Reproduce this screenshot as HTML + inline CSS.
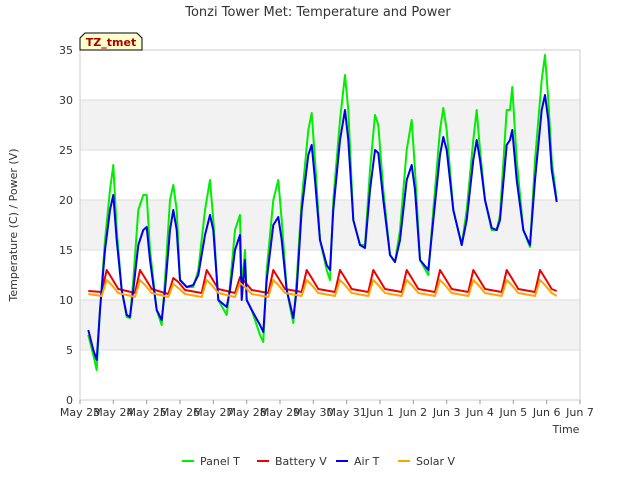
<!DOCTYPE html>
<html><head><meta charset="utf-8"><style>
body{margin:0;background:#fff;font-family:"Liberation Sans","DejaVu Sans",sans-serif}
svg text{font-family:"DejaVu Sans","Liberation Sans",sans-serif}
</style></head><body>
<svg id="chart" width="640" height="480" viewBox="0 0 640 480" xmlns="http://www.w3.org/2000/svg">
<rect width="640" height="480" fill="#fff"/>
<text x="318" y="16" text-anchor="middle" font-size="13" fill="#333">Tonzi Tower Met: Temperature and Power</text>
<g id="bands"></g><g id="grid"></g>
<rect x="80" y="50" width="500" height="350" fill="none" stroke="#ccc"/>
<g id="series"></g><g id="axes"></g>
<g>
<path d="M80,50 L80,38 L85,33 L137,33 L142,38 L142,50 Z" fill="#ffffcc" stroke="#000"/>
<text x="111" y="46" text-anchor="middle" font-size="11" font-weight="bold" fill="#aa0000">TZ_tmet</text></g>
<text transform="translate(17,225) rotate(-90)" text-anchor="middle" font-size="11" fill="#333">Temperature (C) / Power (V)</text>
<text x="566" y="433" text-anchor="middle" font-size="11" fill="#333">Time</text>
<g id="legend"></g>
</svg>
<script>
const xTicks=["May 23","May 24","May 25","May 26","May 27","May 28","May 29","May 30","May 31","Jun 1","Jun 2","Jun 3","Jun 4","Jun 5","Jun 6","Jun 7"];
const yTicks=[0,5,10,15,20,25,30,35];
const tempTimes=[0.25,0.4,0.5,0.6,0.75,0.9,1.0,1.1,1.25,1.4,1.5,1.6,1.75,1.9,2.0,2.1,2.3,2.45,2.55,2.7,2.8,2.9,3.0,3.2,3.4,3.55,3.75,3.9,4.0,4.15,4.4,4.5,4.65,4.8,4.85,4.95,5.0,5.15,5.4,5.5,5.6,5.8,5.95,6.05,6.2,6.4,6.5,6.65,6.85,6.95,7.05,7.2,7.4,7.5,7.6,7.8,7.95,8.05,8.2,8.4,8.55,8.7,8.85,8.95,9.1,9.3,9.45,9.6,9.8,9.95,10.05,10.2,10.45,10.6,10.8,10.9,11.0,11.2,11.45,11.6,11.8,11.9,12.0,12.15,12.35,12.5,12.6,12.8,12.9,12.97,13.1,13.3,13.5,13.65,13.85,13.95,14.05,14.15,14.3];
const panelT=[6.5,4.5,3,9,16,21,23.5,17,11,8.3,8.2,12,19,20.5,20.5,15,9,7.5,12,20,21.5,19,12,11.3,11.3,13,19,22,18,10,8.5,11.5,17,18.5,11,15,10,9,6.5,5.8,13,20,22,18,11,7.7,12,20,27,28.7,24,16,13,12,20,28,32.5,29,18,15.5,15.5,23,28.5,27.5,21,14.5,13.8,17,25,28,23,14,12.5,19,27,29.2,27,19,15.5,19,26,29,25,20,17,17,18.5,29,29,31.3,24,17,15.3,24,32,34.5,30,24,20];
const airT=[7,5,4,9,15,19,20.5,16,11,8.5,8.3,11,15.5,17,17.3,14,9,8,11,17,19,17,12,11.3,11.5,12.5,16.5,18.5,17,10,9.3,11,15,16.5,10,14,10,9,7.5,6.8,12,17.5,18.3,16,11,8.2,11,19,24.5,25.5,22,16,13.5,13,19,26,29,26,18,15.5,15.2,21,25,24.7,20,14.5,13.8,16,22,23.5,21,14,13,18,24.5,26.3,25,19,15.5,18,24,26,24,20,17.2,17,18,25.5,26,27,22,17,15.5,22,29,30.5,28,23,19.8];
const voltTimes=[0.25,0.65,0.8,0.95,1.15,1.65,1.8,1.95,2.15,2.65,2.8,2.95,3.15,3.65,3.8,3.95,4.15,4.65,4.8,4.95,5.15,5.65,5.8,5.95,6.15,6.65,6.8,6.95,7.15,7.65,7.8,7.95,8.15,8.65,8.8,8.95,9.15,9.65,9.8,9.95,10.15,10.65,10.8,10.95,11.15,11.65,11.8,11.95,12.15,12.65,12.8,12.95,13.15,13.65,13.8,13.95,14.15,14.3];
const batteryV=[10.9,10.8,13,12.2,11.1,10.7,13,12.2,11.1,10.6,12.2,11.8,11,10.7,13,12.2,11.1,10.7,12.3,11.8,11,10.7,13,12.2,11.1,10.8,13,12.2,11.1,10.8,13,12.2,11.1,10.8,13,12.2,11.1,10.8,13,12.2,11.1,10.8,13,12.2,11.1,10.8,13,12.2,11.1,10.8,13,12.2,11.1,10.8,13,12.2,11.1,10.9];
const solarV=[10.6,10.4,12,11.5,10.7,10.3,12,11.5,10.7,10.3,11.6,11.2,10.6,10.3,12,11.5,10.7,10.3,11.7,11.3,10.6,10.3,12,11.5,10.7,10.4,12,11.5,10.7,10.4,12,11.5,10.7,10.4,12,11.5,10.7,10.4,12,11.5,10.7,10.4,12,11.5,10.7,10.4,12,11.5,10.7,10.4,12,11.5,10.7,10.4,12,11.5,10.7,10.4];
const NS="http://www.w3.org/2000/svg";
const X=d=>80+d*500/15, Y=v=>400-v*10;
function mk(tag,attrs,parent){const e=document.createElementNS(NS,tag);for(const k in attrs)e.setAttribute(k,attrs[k]);parent.appendChild(e);return e;}
const bands=document.getElementById('bands'),grid=document.getElementById('grid'),axes=document.getElementById('axes'),series=document.getElementById('series'),legend=document.getElementById('legend');
[[5,10],[15,20],[25,30]].forEach(b=>{const r=mk('rect',{x:80,y:Y(b[1]),width:500,height:50,fill:'#f2f2f2'},bands);

});
yTicks.forEach(v=>{const l=mk('line',{x1:80,x2:580,y1:Y(v),y2:Y(v),stroke:'#ddd'},grid);


const t=mk('text',{x:73,y:Y(v)+4,'text-anchor':'end','font-size':11,fill:'#333'},axes);t.textContent=v;

});
xTicks.forEach((s,i)=>{const tk=mk('line',{x1:X(i),x2:X(i),y1:400,y2:404,stroke:'#999'},axes);


const t=mk('text',{x:X(i),y:416,'text-anchor':'middle','font-size':11,fill:'#333'},axes);t.textContent=s;

});
function line(ts,vs,color,name){const p=mk('polyline',{points:ts.map((t,i)=>X(t).toFixed(1)+','+Y(vs[i]).toFixed(1)).join(' '),fill:'none',stroke:color,'stroke-width':2,'stroke-linejoin':'round'},series);

}
line(tempTimes,panelT,'#00ee00','panel-t-line');
line(voltTimes,batteryV,'#ee0000','battery-v-line');
line(tempTimes,airT,'#0000ee','air-t-line');
line(voltTimes,solarV,'#ffa500','solar-v-line');
[["Panel T","#00ee00",182],["Battery V","#ee0000",257],["Air T","#0000ee",336],["Solar V","#ffa500",398]].forEach(e=>{
const g=mk('g',{},legend);


mk('line',{x1:e[2],x2:e[2]+12,y1:461,y2:461,stroke:e[1],'stroke-width':2},g);
const t=mk('text',{x:e[2]+18,y:465,'font-size':11,fill:'#333'},g);t.textContent=e[0];});
</script>
</body></html>
